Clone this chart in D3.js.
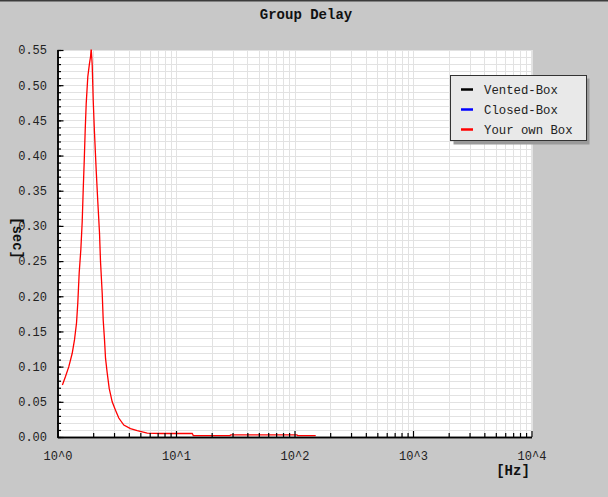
<!DOCTYPE html>
<html><head><meta charset="utf-8">
<script src="https://cdn.jsdelivr.net/npm/d3@7"></script>
<style>
html,body{margin:0;padding:0;background:#c8c8c8;}
svg{display:block;}
</style></head>
<body>
<script>
// ---- data ----
const title = "Group Delay";
const seriesNames = ["Vented-Box", "Closed-Box", "Your own Box"];
const seriesColors = ["#000000", "#0000ff", "#ff0000"];
const ventedFreq = [];
const ventedDelay = [];
const closedFreq = [];
const closedDelay = [];
const ownFreq = [1.10,1.168,1.246,1.331,1.391,1.447,1.483,1.524,1.573,1.616,1.648,1.680,1.713,1.747,1.802,1.862,1.899,1.925,1.963,2.001,2.052,2.121,2.189,2.262,2.307,2.384,2.431,2.493,2.542,2.627,2.731,2.894,3.087,3.291,3.627,4.130,4.706,5.715,7.5,10.2,13.7,14.0,28.5,29.0,105,106,151];
const ownDelay = [0.074,0.086,0.100,0.119,0.138,0.162,0.190,0.233,0.266,0.306,0.351,0.391,0.436,0.474,0.512,0.531,0.540,0.552,0.529,0.479,0.432,0.379,0.334,0.290,0.249,0.204,0.166,0.138,0.112,0.091,0.069,0.050,0.038,0.027,0.017,0.012,0.009,0.0055,0.005,0.005,0.005,0.002,0.002,0.003,0.003,0.002,0.002];
const xTickValues = [1, 10, 100, 1000, 10000];
const xTickLabels = ["10^0", "10^1", "10^2", "10^3", "10^4"];
const yTickValues = [0,0.05,0.10,0.15,0.20,0.25,0.30,0.35,0.40,0.45,0.50,0.55];
const yTickLabels = ["0.00","0.05","0.10","0.15","0.20","0.25","0.30","0.35","0.40","0.45","0.50","0.55"];
const xLabel = "[Hz]";
const yLabel = "[sec]";

// ---- layout ----
const W = 608, H = 497;
const L = 57.5, R = 531.5, T = 50, B = 437;
const svg = d3.select("body").append("svg").attr("width", W).attr("height", H);

svg.append("rect").attr("width", W).attr("height", H).attr("fill", "#c8c8c8");
svg.append("rect").attr("width", W).attr("height", 1.5).attr("fill", "#3c3c3c");

const x = d3.scaleLog().domain([1, 10000]).range([L, R]);
const y = d3.scaleLinear().domain([0, 0.55]).range([B, T]);

// plot background
svg.append("rect").attr("x", L).attr("y", T).attr("width", R - L).attr("height", B - T).attr("fill", "#ffffff");

// minor values
const xMinor = [];
for (let d = 0; d < 4; d++) for (let k = 2; k <= 9; k++) xMinor.push(k * Math.pow(10, d));
const yMinor = d3.range(0, 56).map(i => +(i * 0.01).toFixed(2));

// gridlines
const grid = svg.append("g").attr("stroke", "#e2e2e2").attr("stroke-width", 1).attr("shape-rendering", "crispEdges");
yMinor.forEach(v => grid.append("line").attr("x1", L).attr("x2", R).attr("y1", Math.round(y(v)) + 0.5).attr("y2", Math.round(y(v)) + 0.5));
xMinor.concat(xTickValues).forEach(v => grid.append("line").attr("y1", T).attr("y2", B).attr("x1", Math.round(x(v)) + 0.5).attr("x2", Math.round(x(v)) + 0.5));

// clip
svg.append("clipPath").attr("id", "clip").append("rect").attr("x", L).attr("y", T - 0.5).attr("width", R - L).attr("height", B - T + 0.5);

const line = d3.line().x(d => x(d[0])).y(d => y(d[1]));
const allSeries = [
  d3.zip(ventedFreq, ventedDelay),
  d3.zip(closedFreq, closedDelay),
  d3.zip(ownFreq, ownDelay)
];
allSeries.forEach((s, i) => {
  if (!s.length) return;
  svg.append("path").datum(s).attr("clip-path", "url(#clip)")
    .attr("d", line).attr("fill", "none").attr("stroke", seriesColors[i]).attr("stroke-width", 1.3);
});

// axes
const font = "'Liberation Mono', 'DejaVu Sans Mono', monospace";
const yAxisMinor = d3.axisLeft(y).tickValues(yMinor).tickSizeInner(-3.5).tickSizeOuter(0).tickFormat("");
const yAxisMajor = d3.axisLeft(y).tickValues(yTickValues).tickSizeInner(-6).tickSizeOuter(0).tickPadding(16)
  .tickFormat((d, i) => yTickLabels[i]);
const gy1 = svg.append("g").attr("transform", `translate(${L},0)`).call(yAxisMinor);
const gy2 = svg.append("g").attr("transform", `translate(${L},0)`).call(yAxisMajor);
[gy1, gy2].forEach(g => { g.selectAll("line").attr("stroke", "#000").attr("stroke-width", 1.2); g.select(".domain").attr("stroke", "#000").attr("stroke-width", 1.5); });
gy2.selectAll("text").attr("font-family", font).attr("font-size", 12).attr("fill", "#222").attr("dx", 0).attr("x", -10.5);

const xAxisMinor = d3.axisBottom(x).tickValues(xMinor).tickSizeInner(-4).tickSizeOuter(0).tickFormat("");
const xAxisMajor = d3.axisBottom(x).tickValues(xTickValues).tickSizeInner(-6).tickSizeOuter(0).tickPadding(16)
  .tickFormat((d, i) => xTickLabels[i]);
const gx1 = svg.append("g").attr("transform", `translate(0,${B})`).call(xAxisMinor);
const gx2 = svg.append("g").attr("transform", `translate(0,${B})`).call(xAxisMajor);
[gx1, gx2].forEach(g => { g.selectAll("line").attr("stroke", "#000").attr("stroke-width", 1.2); g.select(".domain").attr("stroke", "#000").attr("stroke-width", 1.5); });
gx2.selectAll("text").attr("font-family", font).attr("font-size", 12).attr("fill", "#222").attr("y", 14).attr("dy", "0.71em");

// title & labels
svg.append("text").attr("x", 306).attr("y", 19).attr("text-anchor", "middle")
  .attr("font-family", font).attr("font-weight", "bold").attr("font-size", 14).attr("fill", "#111").text(title);
svg.append("text").attr("x", 513).attr("y", 475).attr("text-anchor", "middle")
  .attr("font-family", font).attr("font-weight", "bold").attr("font-size", 14).attr("fill", "#111").text(xLabel);
svg.append("text").attr("transform", "translate(13,238) rotate(90)").attr("text-anchor", "middle")
  .attr("font-family", font).attr("font-weight", "bold").attr("font-size", 14).attr("fill", "#111").text(yLabel);

// legend
const lg = svg.append("g");
lg.append("rect").attr("x", 453.5).attr("y", 78.5).attr("width", 136).attr("height", 66).attr("fill", "#9a9a9a");
lg.append("rect").attr("x", 450.5).attr("y", 75.5).attr("width", 136).attr("height", 65).attr("fill", "#e9e9e9").attr("stroke", "#333").attr("stroke-width", 1);
seriesNames.forEach((n, i) => {
  const yy = 89.5 + i * 20;
  lg.append("line").attr("x1", 461).attr("x2", 473).attr("y1", yy).attr("y2", yy).attr("stroke", seriesColors[i]).attr("stroke-width", 2.5);
  lg.append("text").attr("x", 484).attr("y", yy + 4.5).attr("font-family", font).attr("font-size", 12.3).attr("fill", "#222").text(n);
});
</script>
</body></html>
